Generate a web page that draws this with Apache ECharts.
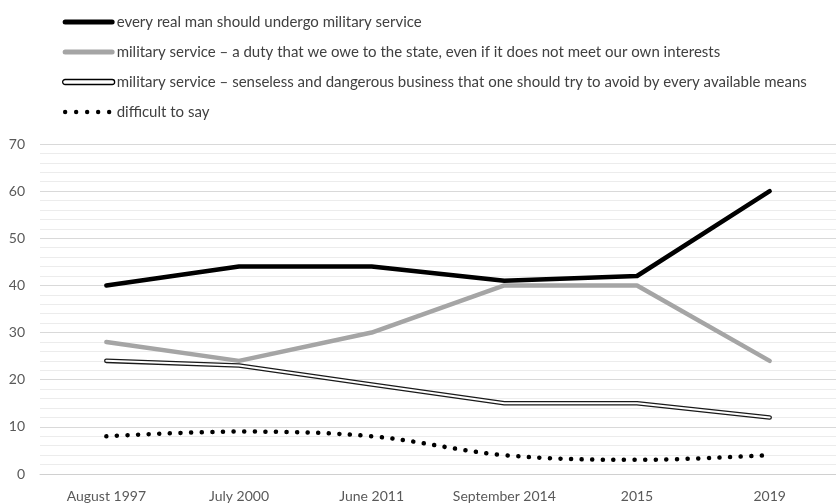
<!DOCTYPE html>
<html>
<head>
<meta charset="utf-8">
<script src="https://cdn.jsdelivr.net/npm/echarts@6/dist/echarts.min.js"></script>
<style>
  html, body { margin: 0; padding: 0; background: #fff; }
  #chart { width: 836px; height: 503px; }
</style>
</head>
<body>
<div id="chart"></div>
<script>
// Survey periods along the horizontal axis
const categories = ['August 1997', 'July 2000', 'June 2011', 'September 2014', '2015', '2019'];

// Answer shares, percent
const realMan   = [40, 44, 44, 41, 42, 60];
const duty      = [28, 24, 30, 40, 40, 24];
const senseless = [24, 23, 19, 15, 15, 12];
const difficult = [8, 9, 8, 4, 3, 4];

const seriesNames = [
  'every real man should undergo military service',
  'military service \u2013 a duty that we owe to the state, even if it does not meet our own interests',
  'military service \u2013 senseless and dangerous business that one should try to avoid by every available means',
  'difficult to say'
];

const FONT = 'Lato';
const TEXT = '#404040';

// Legend glyphs (52 x 5 box)
const barIcon = 'path://M2.5,0 L49.5,0 A2.5,2.5 0 0 1 49.5,5 L2.5,5 A2.5,2.5 0 0 1 2.5,0 Z';
const dotIcon = (function () {
  // zero-length subpaths pin the box so the dots keep their spacing
  let p = 'path://M0,0 L0,0 M52,5 L52,5 ';
  for (let i = 0; i < 5; i++) {
    const cx = 2.5 + i * 11;
    p += 'M' + (cx - 2.2) + ',2.5 A2.2,2.2 0 1 0 ' + (cx + 2.2) + ',2.5 A2.2,2.2 0 1 0 ' + (cx - 2.2) + ',2.5 Z ';
  }
  return p;
})();

const chart = echarts.init(document.getElementById('chart'), null, { renderer: 'canvas' });

chart.setOption({
  animation: false,
  backgroundColor: '#fff',
  textStyle: { fontFamily: FONT },
  legend: {
    orient: 'vertical',
    left: 57,
    top: 9,
    itemWidth: 52,
    itemHeight: 5,
    itemGap: 14,
    symbolKeepAspect: false,
    selectedMode: false,
    textStyle: { fontFamily: FONT, fontSize: 15, color: TEXT, lineHeight: 16, padding: [0, 0, 0, -3] },
    data: [
      { name: seriesNames[0], icon: barIcon, itemStyle: { color: '#000', borderWidth: 0 } },
      { name: seriesNames[1], icon: barIcon, itemStyle: { color: '#a5a5a5', borderWidth: 0 } },
      { name: seriesNames[2], icon: barIcon, itemStyle: { color: '#fff', borderColor: '#000', borderWidth: 1.3 } },
      { name: seriesNames[3], icon: dotIcon, itemStyle: { color: '#000', borderWidth: 0 } }
    ]
  },
  grid: { left: 40, right: -4, top: 144, bottom: 27 },
  xAxis: {
    type: 'category',
    data: categories,
    boundaryGap: true,
    axisLine: { show: true, lineStyle: { color: '#d0d0d0', width: 1 } },
    axisTick: { show: false },
    axisLabel: { fontFamily: FONT, fontSize: 14, color: '#595959', margin: 15, interval: 0 },
    splitLine: { show: false }
  },
  yAxis: {
    type: 'value',
    min: 0,
    max: 70,
    interval: 10,
    axisLine: { show: false },
    axisTick: { show: false },
    axisLabel: { fontFamily: FONT, fontSize: 14, color: '#595959', margin: 15 },
    splitLine: { show: true, lineStyle: { color: '#d9d9d9', width: 1 } },
    minorTick: { show: false, splitNumber: 5 },
    minorSplitLine: { show: true, lineStyle: { color: '#ececec', width: 1 } }
  },
  series: [
    {
      name: seriesNames[0], type: 'line', data: realMan,
      symbol: 'none', z: 2,
      lineStyle: { color: '#000', width: 4.5, cap: 'round', join: 'round' },
      itemStyle: { color: '#000' }
    },
    {
      name: seriesNames[1], type: 'line', data: duty,
      symbol: 'none', z: 3,
      lineStyle: { color: '#a5a5a5', width: 4.5, cap: 'round', join: 'round' },
      itemStyle: { color: '#a5a5a5' }
    },
    {
      name: seriesNames[2], type: 'line', data: senseless,
      symbol: 'none', z: 4,
      lineStyle: { color: '#1a1a1a', width: 4.6, cap: 'round', join: 'round' },
      itemStyle: { color: '#000' }
    },
    {
      // white core of the double line
      name: 'senseless-core', type: 'line', data: senseless,
      symbol: 'none', z: 5, silent: true,
      lineStyle: { color: '#fff', width: 2, cap: 'round', join: 'round' }
    },
    {
      name: seriesNames[3], type: 'line', data: difficult,
      symbol: 'none', z: 6, smooth: 0.35,
      lineStyle: { color: '#000', width: 4.5, type: [0.1, 10.5], cap: 'round' },
      itemStyle: { color: '#000' }
    }
  ]
});
</script>
</body>
</html>
